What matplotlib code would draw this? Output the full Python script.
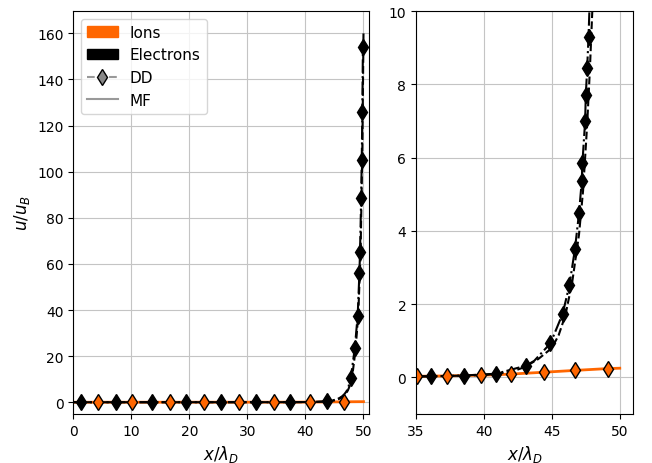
import matplotlib
matplotlib.use("Agg")
import matplotlib.pyplot as plt
from matplotlib.patches import Patch
from matplotlib.lines import Line2D

orange = '#ff6600'

# ions (DD markers + line)
ion_x = [0, 4.2, 10.1, 16.7, 22.6, 28.5, 34.5, 35.05, 37.3, 39.8, 40.7, 42.0, 44.4, 46.7, 49.1, 50.0]
ion_y = [0.0, 0.005, 0.01, 0.015, 0.02, 0.025, 0.03, 0.03, 0.04, 0.06, 0.07, 0.09, 0.14, 0.19, 0.24, 0.25]
ion_mark_left_x = [4.2, 10.1, 16.7, 22.6, 28.5, 34.5, 40.7, 46.7]
ion_mark_left_y = [0.005, 0.01, 0.015, 0.02, 0.025, 0.03, 0.07, 0.19]
ion_mark_right_x = [35.05, 37.3, 39.8, 42.0, 44.4, 46.7, 49.1]
ion_mark_right_y = [0.03, 0.04, 0.06, 0.09, 0.14, 0.19, 0.24]

# electrons DD
ele_dd_x = [0, 1.3, 7.3, 13.6, 19.4, 25.4, 31.5, 36.1, 37.4, 38.5, 40.9, 43.1, 43.7, 44.9, 45.8,
            46.3, 46.7, 47.0, 47.2, 47.25, 47.45, 47.5, 47.6, 47.7, 47.8, 48.5, 49.0, 49.3,
            49.4, 49.6, 49.7, 49.8, 49.9]
ele_dd_y = [0.0, 0.0, 0.0, 0.0, 0.01, 0.01, 0.02, 0.03, 0.04, 0.05, 0.1, 0.32, 0.45, 0.93, 1.74,
            2.53, 3.5, 4.48, 5.35, 5.85, 6.99, 7.7, 8.44, 9.29, 10.4, 23.4, 37.6, 56.2,
            65.0, 88.6, 105.0, 126.1, 154.3]
ele_mark_left_x = [1.3, 7.3, 13.6, 19.4, 25.4, 31.5, 37.4, 43.7, 47.8, 48.5, 49.0, 49.3, 49.4, 49.6, 49.7, 49.8, 49.9]
ele_mark_left_y = [0.0, 0.0, 0.0, 0.01, 0.01, 0.02, 0.04, 0.45, 10.4, 23.4, 37.6, 56.2, 65.0, 88.6, 105.0, 126.1, 154.3]
ele_mark_right_x = [36.1, 38.5, 40.9, 43.1, 44.9, 45.8, 46.3, 46.7, 47.0, 47.2, 47.25, 47.45, 47.5, 47.6, 47.7]
ele_mark_right_y = [0.03, 0.05, 0.1, 0.32, 0.93, 1.74, 2.53, 3.5, 4.48, 5.35, 5.85, 6.99, 7.7, 8.44, 9.29]

# electrons MF
ele_mf_x = [0, 35, 40, 42, 43, 44, 45, 45.5, 46, 46.5, 47, 47.3, 47.6, 47.8, 48.0, 48.6, 49.1, 49.5, 49.8, 50.0]
ele_mf_y = [0.0, 0.02, 0.06, 0.15, 0.28, 0.5, 0.8, 1.15, 1.7, 2.6, 3.9, 5.1, 6.9, 8.4, 10.2, 22.0, 38.0, 65.0, 110.0, 160.0]

fig = plt.figure(figsize=(6.52, 4.64), dpi=100)
ax1 = fig.add_axes([0.1124, 0.1056, 0.454, 0.8685])
ax2 = fig.add_axes([0.638, 0.1056, 0.3334, 0.8685])

mk = dict(marker='d', markersize=8, markeredgecolor='k', linestyle='none')
for ax, imx, imy, emx, emy in [(ax1, ion_mark_left_x, ion_mark_left_y, ele_mark_left_x, ele_mark_left_y),
                               (ax2, ion_mark_right_x, ion_mark_right_y, ele_mark_right_x, ele_mark_right_y)]:
    ax.plot(ion_x, ion_y, color=orange, lw=2)
    ax.plot(ele_mf_x, ele_mf_y, color='k', ls='--', lw=1.5)
    ax.plot(ele_dd_x, ele_dd_y, color='k', ls='-.', lw=1.5)
    ax.plot(imx, imy, markerfacecolor=orange, **mk)
    ax.plot(emx, emy, markerfacecolor='k', **mk)
    ax.grid(True, color='#c4c4c4')
    ax.set_axisbelow(True)
    ax.set_xlabel(r'$x/\lambda_D$', fontsize=12)

ax1.set_xlim(0, 51)
ax1.set_ylim(-5.1, 169.7)
ax1.set_yticks(range(0, 161, 20))
ax1.set_ylabel(r'$u/u_B$', fontsize=12)

ax2.set_xlim(35, 51)
ax2.set_ylim(-1, 10)
ax2.set_xticks([35, 40, 45, 50])

handles = [Patch(color=orange, label='Ions'),
           Patch(color='k', label='Electrons'),
           Line2D([], [], color='#999999', ls='--', marker='d', markersize=8,
                  markerfacecolor='#888888', markeredgecolor='k', label='DD'),
           Line2D([], [], color='#999999', ls='-', label='MF')]
ax1.legend(handles=handles, loc='upper left', fontsize=11)

fig.savefig('out.png', dpi=100)
